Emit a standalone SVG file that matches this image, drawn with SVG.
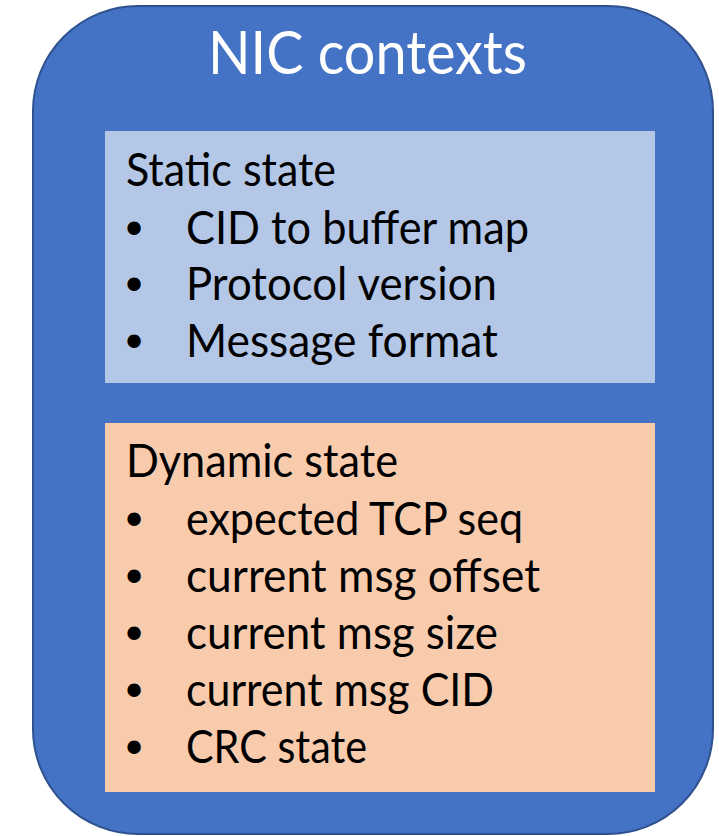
<svg xmlns="http://www.w3.org/2000/svg" width="719" height="836" viewBox="0 0 719 836">
<style>
.body{font-family:Lato,"Open Sans","Liberation Sans",sans-serif;font-size:46px;fill:#000}
.title{font-family:Lato,"Open Sans","Liberation Sans",sans-serif;font-size:60px;fill:#fff}
.bul{font-family:"DejaVu Sans",sans-serif;font-size:46px;fill:#000}
</style>
<rect width="719" height="836" fill="#fff"/>
<g id="nic-contexts">
<rect x="33" y="6" width="680" height="828" rx="105" ry="105" fill="#4472C4" stroke="#2F528F" stroke-width="2"/>
<text class="title" x="208" y="74" textLength="319" lengthAdjust="spacingAndGlyphs">NIC contexts</text>
</g>
<g id="static-state">
<rect x="105" y="131" width="550" height="252" fill="#B4C7E7"/>
<text class="body" x="126" y="186" textLength="210" lengthAdjust="spacingAndGlyphs">Static state</text>
<text class="bul" x="134" y="246" text-anchor="middle">•</text>
<text class="body" x="186" y="244" textLength="343" lengthAdjust="spacingAndGlyphs">CID to buffer map</text>
<text class="bul" x="134" y="302" text-anchor="middle">•</text>
<text class="body" x="186" y="300" textLength="311" lengthAdjust="spacingAndGlyphs">Protocol version</text>
<text class="bul" x="134" y="359" text-anchor="middle">•</text>
<text class="body" x="186" y="357" textLength="312" lengthAdjust="spacingAndGlyphs">Message format</text>
</g>
<g id="dynamic-state">
<rect x="105" y="423" width="550" height="369" fill="#F8CBAD"/>
<text class="body" x="126" y="477" textLength="272" lengthAdjust="spacingAndGlyphs">Dynamic state</text>
<text class="bul" x="134" y="537" text-anchor="middle">•</text>
<text class="body" x="186" y="535" textLength="337" lengthAdjust="spacingAndGlyphs">expected TCP seq</text>
<text class="bul" x="134" y="594" text-anchor="middle">•</text>
<text class="body" x="186" y="592" textLength="354" lengthAdjust="spacingAndGlyphs">current msg offset</text>
<text class="bul" x="134" y="651" text-anchor="middle">•</text>
<text class="body" x="186" y="649" textLength="312" lengthAdjust="spacingAndGlyphs">current msg size</text>
<text class="bul" x="134" y="708" text-anchor="middle">•</text>
<text class="body" x="186" y="706" textLength="308" lengthAdjust="spacingAndGlyphs">current msg CID</text>
<text class="bul" x="134" y="765" text-anchor="middle">•</text>
<text class="body" x="186" y="763" textLength="181" lengthAdjust="spacingAndGlyphs">CRC state</text>
</g>
<g id="connectors"/>
</svg>
